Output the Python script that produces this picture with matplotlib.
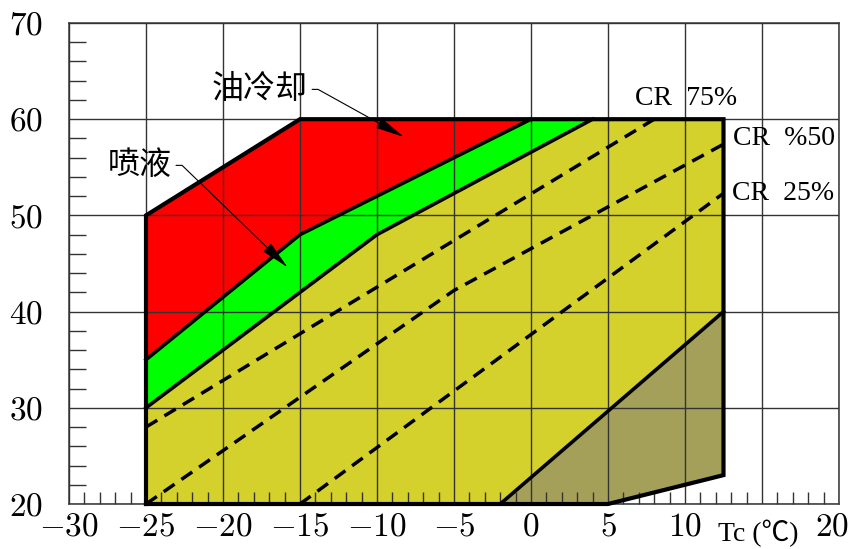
import numpy as np
import matplotlib
matplotlib.use("Agg")
import matplotlib.pyplot as plt
from matplotlib.ticker import MultipleLocator

plt.rcParams['font.family'] = ['Liberation Serif', 'Noto Sans CJK SC', 'DejaVu Sans']
plt.rcParams['mathtext.fontset'] = 'cm'

# operating envelope (Tc on x, condensing temp on y)
outline_x = [-25, -25, -15, 12.5, 12.5, 5]
outline_y = [20, 50, 60, 60, 23, 20]

# red / green boundary (oil cooling limit)
oil_x = [-25, -15, 0]
oil_y = [35, 48, 60]

# green / yellow boundary (liquid injection limit)
inj_x = [-25, -10, 4]
inj_y = [30, 48, 60]

# lower right limit (dark olive area)
low_x = [-2, 12.5]
low_y = [20, 40]

# capacity ratio lines
cr75_x = [-25, 8]
cr75_y = [28, 60]
cr50_x = [-25, -5, 12.5]
cr50_y = [20, 42.2, 57.4]
cr25_x = [-15, 12.5]
cr25_y = [20, 52.3]

xticks = [-30, -25, -20, -15, -10, -5, 0, 5, 10, 15, 20]
yticks = [20, 30, 40, 50, 60, 70]

RED = '#ff0000'
GREEN = '#00ff00'
YELLOW = '#d4d02c'
OLIVE = '#a4a05a'

fig = plt.figure(figsize=(8.52, 5.49), dpi=100)
ax = fig.add_axes([69 / 852, 1 - 504 / 549, 770 / 852, 481 / 549])

# fills
ax.fill(outline_x, outline_y, color=YELLOW, lw=0, zorder=1)
red_x = [outline_x[1], outline_x[2]] + oil_x[::-1]
red_y = [outline_y[1], outline_y[2]] + oil_y[::-1]
ax.fill(red_x, red_y, color=RED, lw=0, zorder=1)
green_x = oil_x + inj_x[::-1]
green_y = oil_y + inj_y[::-1]
ax.fill(green_x, green_y, color=GREEN, lw=0, zorder=1)
olive_x = low_x + [outline_x[4], outline_x[5]]
olive_y = low_y + [outline_y[4], outline_y[5]]
ax.fill(olive_x, olive_y, color=OLIVE, lw=0, zorder=1)

# boundaries
ax.plot(outline_x + [outline_x[0]], outline_y + [outline_y[0]],
        color='black', lw=3.0, zorder=4, solid_joinstyle='miter', clip_on=False)
for xs, ys in [(oil_x, oil_y), (inj_x, inj_y), (low_x, low_y)]:
    ax.plot(xs, ys, color='black', lw=2.6, zorder=4)
for xs, ys in [(cr75_x, cr75_y), (cr50_x, cr50_y), (cr25_x, cr25_y)]:
    ax.plot(xs, ys, color='black', lw=2.5, dashes=(3.8, 2.4), zorder=4)

# labels
ax.text(10.1, 62.1, 'CR  75%', fontsize=20, ha='center', va='center')
ax.text(16.4, 58.0, 'CR  %50', fontsize=20, ha='center', va='center')
ax.text(16.4, 52.3, 'CR  25%', fontsize=20, ha='center', va='center')

ax.annotate('油冷却', xy=(-8.25, 58.15), xytext=(-17.6, 63.1),
            fontsize=23, ha='center', va='center',
            family=['Noto Sans CJK SC'],
            arrowprops=dict(arrowstyle='-|>,head_length=1.8,head_width=0.35',
                            connectionstyle='angle,angleA=0,angleB=-29,rad=0',
                            mutation_scale=10, lw=0.8, color='black',
                            relpos=(1.0, 0.5), shrinkA=1, shrinkB=0),
            zorder=5)
ax.annotate('喷液', xy=(-15.8, 44.6), xytext=(-25.4, 55.2),
            fontsize=23, ha='center', va='center',
            family=['Noto Sans CJK SC'],
            arrowprops=dict(arrowstyle='-|>,head_length=1.8,head_width=0.35',
                            connectionstyle='angle,angleA=0,angleB=-44,rad=0',
                            mutation_scale=10, lw=0.8, color='black',
                            relpos=(1.0, 0.5), shrinkA=1, shrinkB=0),
            zorder=5)

# x label sits where the 15 tick label would be
ax.annotate('Tc (℃)', xy=(15, 20), xytext=(-3, -11), textcoords='offset points',
            fontsize=20, ha='center', va='top', annotation_clip=False,
            family=['Liberation Serif', 'Noto Sans CJK SC'])
# last tick label pulled in so it stays inside the figure
ax.annotate('$20$', xy=(20, 20), xytext=(-5, -6), textcoords='offset points',
            fontsize=24, ha='center', va='top', annotation_clip=False)

# axes
ax.set_xlim(-30, 20)
ax.set_ylim(20, 70)
ax.set_xticks(xticks, ['' if v in (15, 20) else f'${v}$' for v in xticks])
ax.set_yticks(yticks, [f'${v}$' for v in yticks])
ax.xaxis.set_minor_locator(MultipleLocator(1))
ax.yaxis.set_minor_locator(MultipleLocator(2))
ax.tick_params(axis='both', which='major', length=0, labelsize=24, colors='black')
ax.tick_params(axis='x', which='major', pad=6)
ax.tick_params(axis='y', which='major', pad=19)
ax.tick_params(axis='x', which='minor', direction='in', length=8.5, width=1.0, color='#333333')
ax.tick_params(axis='y', which='minor', direction='in', length=12, width=1.0, color='#333333')

ax.grid(True, which='major', color='#333333', lw=1.0)
ax.set_axisbelow(False)
for s in ax.spines.values():
    s.set_color('#444444')
    s.set_linewidth(1.2)

fig.savefig('out.png', dpi=100)
